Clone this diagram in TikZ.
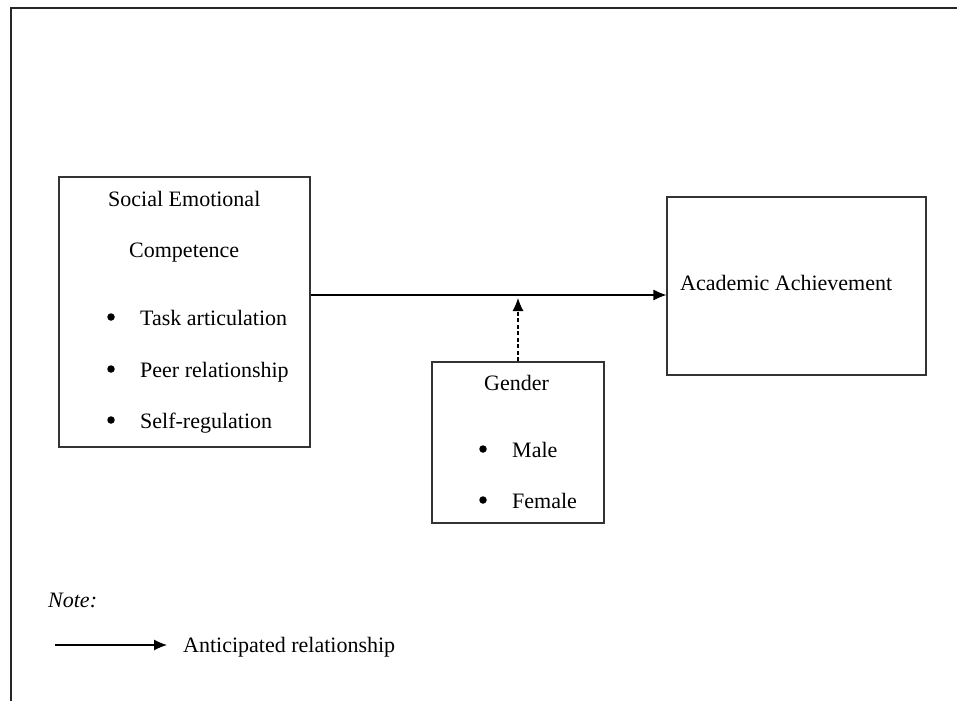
\documentclass[tikz,border=0pt]{standalone}
\usepackage{fontspec}
\setmainfont{Liberation Serif}
\usetikzlibrary{arrows.meta}
\tikzset{
	box/.style={draw=black!80, line width=1.1pt},
	txt/.style={inner sep=0pt, anchor=base west, font=\fontsize{22}{26}\selectfont},
	dot/.style={circle, fill=black, inner sep=0pt, minimum size=7.5pt},
	arr/.style={line width=1.1pt, -{Latex[length=13pt,width=11pt]}}
}

\begin{document}
\begin{tikzpicture}[x=1pt, y=-1pt]
		\useasboundingbox (0,0) rectangle (957,701);
		\draw[line width=1.3pt, black!85] (957,8) -- (11,8) -- (11,701);
		
		\node[box, minimum width=251, minimum height=270] (SEC) at (184.5,312) {};
		\node[box, minimum width=259, minimum height=178] (AA) at (796.5,286) {};
		\node[box, minimum width=172, minimum height=161] (GEN) at (518,442.5) {};
		
		\node[txt] (s1) at (108,206) {Social Emotional};
		\node[txt] (s2) at (129,257) {Competence};
		\node[dot] (d1) at (111,317) {};
		\node[txt] (t1) at (140,325) {Task articulation};
		\node[dot] (d2) at (111,369) {};
		\node[txt] (t2) at (140,377) {Peer relationship};
		\node[dot] (d3) at (111,420) {};
		\node[txt] (t3) at (140,428) {Self-regulation};
		
		\node[txt] (a1) at (680,290) {Academic Achievement};
		
		\node[txt] (g1) at (484,390) {Gender};
		\node[dot] (d4) at (483,449) {};
		\node[txt] (g2) at (512,457) {Male};
		\node[dot] (d5) at (483,500) {};
		\node[txt] (g3) at (512,508) {Female};
		
		\coordinate (M) at (0,295);
		\coordinate (T) at (518,298);
		\draw[arr] (SEC.east |- M) -- (AA.west |- M);
		\draw[arr, dash pattern=on 4pt off 2.5pt] (GEN.north) -- (T);
		
		\node[txt] (note) at (48,607) {\textit{Note:}};
		\coordinate (L1) at (55,645);
		\coordinate (L2) at (167,645);
		\draw[arr] (L1) -- (L2);
		\node[txt] (leg) at (183,652) {Anticipated relationship};
\end{tikzpicture}
\end{document}
